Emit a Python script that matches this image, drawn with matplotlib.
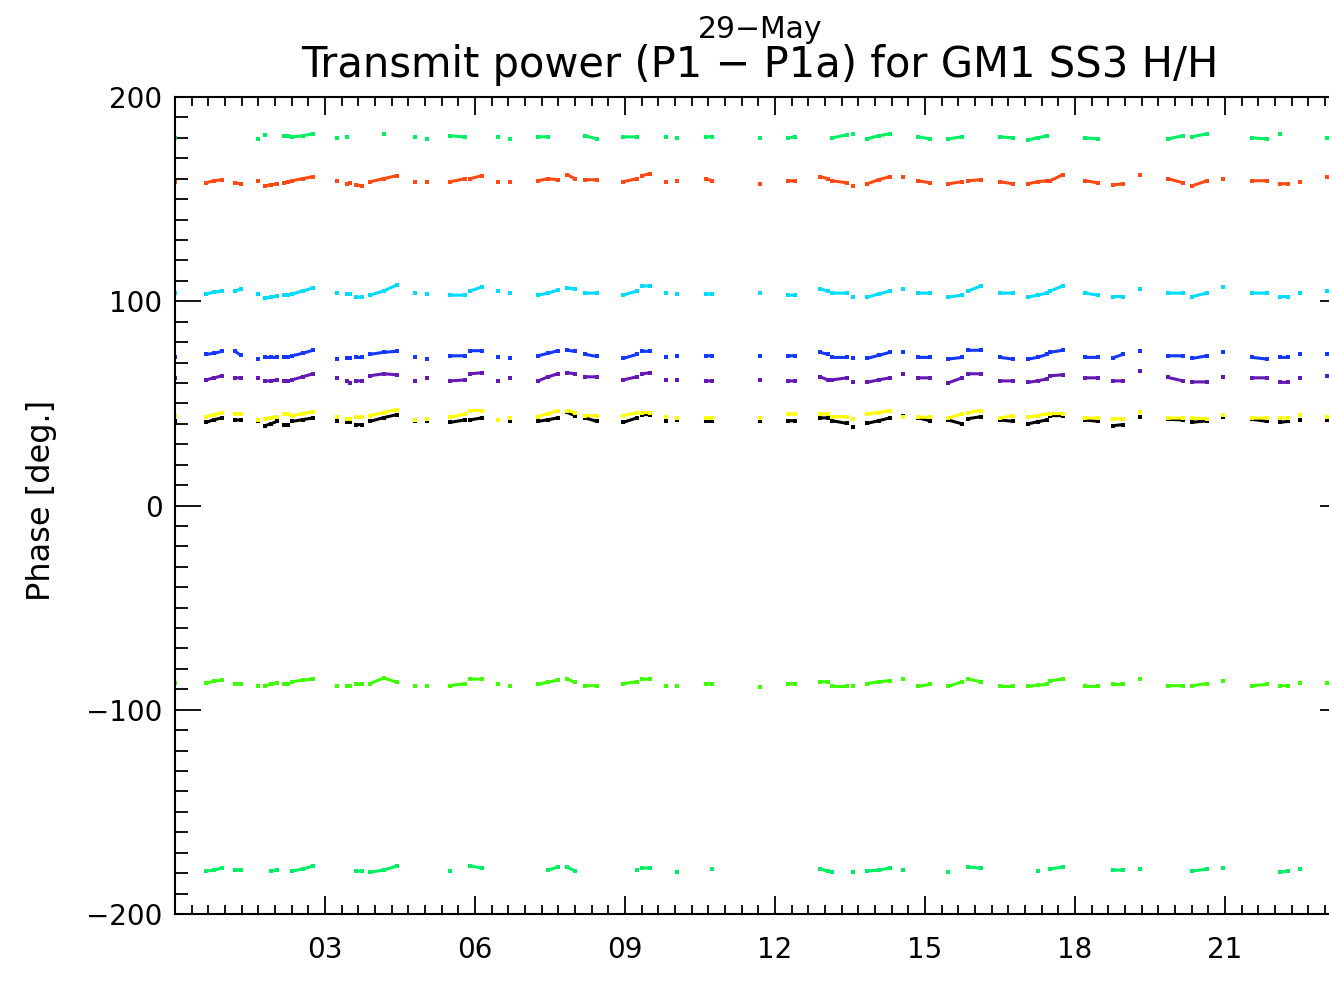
import numpy as np
import matplotlib.pyplot as plt
from matplotlib.ticker import MultipleLocator, FixedLocator

nan = np.nan

# sample times [hours UT], grouped by the passes seen in the plot
passes = [
    [0.0], [0.62, 0.78, 0.94], [1.2, 1.32], [1.66], [1.8, 1.92, 2.04], [2.18, 2.26],
    [2.34, 2.55, 2.76], [3.24], [3.44, 3.5], [3.62, 3.74], [3.9, 4.17, 4.44], [4.8],
    [5.04], [5.5, 5.8], [5.9, 6.14], [6.46], [6.7], [7.26, 7.46, 7.66],
    [7.84, 8.0], [8.2, 8.44], [8.96, 9.24], [9.34, 9.5], [9.82], [10.04],
    [10.62, 10.74], [11.7], [12.26, 12.4], [12.9, 13.06], [13.14, 13.44], [13.56],
    [13.84, 14.07, 14.3], [14.56], [14.86, 15.1], [15.46, 15.74], [15.86, 16.12], [16.5, 16.76],
    [17.06, 17.25, 17.44], [17.5, 17.76], [18.2, 18.46], [18.76, 18.96], [19.3], [19.86, 20.16],
    [20.34, 20.64], [20.96], [21.54, 21.84], [22.1, 22.26], [22.5], [23.04],
]

# phase [deg] per pass, one list per channel (None = no data in that pass)
green_top = [
    [180], None, None, [179.5], [181.5, nan, nan], [181, 181],
    [180.5, 181, 182], [180], [180.5, nan], None, [nan, 182, nan], [180.5],
    [179.5], [181, 180.5], None, [180.5], [179.5], [180.5, 180.5, nan],
    None, [181, 179.5], [180.5, 180.5], None, [180.5], [180],
    [180.5, 180.5], [180], [180, 180.5], None, [180, 181.5], [182],
    [179.5, 181, 182], None, [180.5, 179.5], [179.5, 180.5], None, [180.5, 180],
    [179, 180, 181], None, [180, 179.5], None, None, [179.5, 181],
    [180.5, 182], None, [180, 179.5], [182, nan], None, [180],
]
orange = [
    [158.5], [158, 159, 159.5], [158, 157.5], [159], [156.5, 157, 157.5], [158, 158.5],
    [159, 160, 161], [159], [157.5, 158], [157, 156.5], [158.5, 160, 161.5], [158.5],
    [158.5], [158.5, 160], [160, 161.5], [158.5], [158.5], [159, 160, 159.5],
    [162, 160], [159.5, 159.5], [158.5, 160], [161.5, 162.5], [158.5], [159],
    [160, 159], [157.5], [159, 159], [161, 160], [159, 158], [156.5],
    [157.5, 159.5, 161], [161], [159, 158], [157.5, 158.5], [159, 159.5], [158.5, 157.5],
    [157.5, 158.5, 159], [159, 162], [159, 158], [157, 157.5], [162], [160, 158],
    [156.5, 159], [160], [159, 159], [157.5, 157.5], [158.5], [161],
]
cyan = [
    [104], [103.5, 104.5, 105], [105, 106], [103.5], [101.5, 102, 102.5], [103, 103],
    [103.5, 105, 106.5], [104], [103.5, 103.5], [102, 102], [103, 105, 108], [104],
    [103.5], [103, 103], [105, 107], [105], [104], [103, 104, 105.5],
    [106.5, 106], [104, 104], [103, 105], [107.5, 107.5], [104], [103.5],
    [103.5, 103.5], [104], [103, 103], [106, 105], [104, 104], [102],
    [102, 103.5, 105], [106], [104, 104], [102, 103], [105, 107.5], [104, 104],
    [102, 103, 104], [105, 107.5], [104, 103], [102.3, 102.3], [106], [104, 104],
    [102.3, 104], [106.8], [104, 104], [102.3, 102.3], [104], [105],
]
blue = [
    [72.5], [74, 74.5, 75.5], [75.5, 73.5], [71.7], [72.5, 72.5, 72.5], [72.5, 72.5],
    [73.3, 74.5, 76], [71.7], [72, 72], [72.5, 72.5], [74, 75, 75.5], [72.5],
    [71.7], [73.3, 73.3], [75.8, 75.8], [72.5], [72], [73.3, 74.5, 75.8],
    [76, 75.5], [74, 73], [72, 74], [75.5, 75.5], [72.5], [73],
    [73.3, 73.3], [73.3], [73.3, 73.3], [75, 74], [72.5, 72.5], [72],
    [72, 73.5, 75], [75], [72.5, 72.5], [71.7, 72.5], [76, 76], [72.5, 71.7],
    [71.7, 72.5, 74], [75, 76], [72.5, 72.5], [72.3, 74], [75.5], [73.3, 73.3],
    [72, 73.3], [75], [72.5, 71.7], [72.5, 72.5], [74.3], [74],
]
purple = [
    [62.5], [61.5, 62.5, 63.5], [62.5, 62.5], [62.5], [61, 61, 61.5], [61, 61],
    [61.5, 63, 64.5], [62.5], [61, 60], [61, 61], [63.5, 64.5, 64], [61],
    [62.5], [61, 61.5], [64.5, 65], [61], [62.5], [61, 63, 64.5],
    [65, 64.5], [63, 63], [61.5, 63], [64.5, 65], [61.5], [61.5],
    [61, 61], [61.5], [61, 61], [63, 61.5], [61.5, 62.5], [60.3],
    [60.3, 61.5, 62.5], [64.5], [62.5, 62.5], [60, 62.5], [64.5, 64.5], [61, 61],
    [60.3, 61, 62], [63.5, 64], [62.5, 62.5], [61, 61], [66], [62.7, 61],
    [60.5, 60.5], [62.7], [62.5, 62.5], [60.3, 60.3], [62.5], [63.5],
]
yellow = [
    [44], [43.5, 44.5, 45.5], [45, 45], [42], [42.5, 43, 43.5], [45, 45],
    [44, 45, 46], [43.2], [42.5, 42.5], [43.2, 43.2], [44, 45.5, 47], [42],
    [42.5], [43.2, 44.8], [46.5, 46.5], [42], [43], [43.5, 45, 46.5],
    [46.5, 45.5], [44, 44], [44, 45.5], [45.5, 45.5], [43.2], [42.8],
    [42.8, 42.8], [42.8], [44.8, 44.8], [44.8, 44.8], [43.5, 43.5], [42.5],
    [44.8, 45.5, 46.5], [43.5], [43.2, 43.2], [42.8, 44.8], [45.5, 46.5], [42.8, 44],
    [43.2, 44, 44.8], [45, 45], [42.8, 42.8], [42.5, 42.5], [46], [42.8, 42.8],
    [42.8, 42.5], [44.5], [42.8, 42.8], [42.8, 42.8], [44.5], [43.2],
]
black = [
    [41.5], [40.7, 42, 42.9], [41.9, 41.9], [41.2], [39.1, 40, 41.2], [39.6, 39.6],
    [41.2, 42, 42.9], [41.5], [40.7, 40.7], [39.6, 39.6], [41.2, 43, 44.5], [41.2],
    [41.5], [40.7, 41.9], [41.9, 42.9], [41.9], [41.5], [41.2, 42, 42.9],
    [45.6, 44], [42.9, 41.2], [40.7, 42.9], [44.5, 44.5], [41.2], [41.9],
    [41.2, 41.2], [41.2], [41.5, 41.5], [42.9, 42.9], [41.5, 40.2], [38.3],
    [40.2, 41.5, 42.9], [44], [42.9, 41.5], [41.9, 40], [42.5, 43.5], [41.9, 41.2],
    [40, 41, 41.9], [44, 44], [41.9, 41.2], [39.1, 39.6], [43.5], [42.2, 41.9],
    [40.7, 41.5], [43.5], [42.2, 41.2], [40.7, 41.2], [41.9], [41.9],
]
lime = [
    [-87], [-87, -86, -85.5], [-87.2, -87.2], [-88.6], [-88.2, -87.5, -87], [-87.2, -87.2],
    [-86.3, -85.5, -85], [-88.2], [-88.6, -88.6], [-87.6, -87.6], [-87.2, -84.5, -86.5], [-88.6],
    [-88.6], [-88.2, -87.2], [-85, -85], [-87.6], [-88.2], [-87.6, -86.5, -85.5],
    [-85, -86.5], [-88.2, -88.2], [-87.2, -86.3], [-85, -85], [-88.2], [-88.2],
    [-87.2, -87.2], [-89], [-87.2, -87.2], [-86.3, -86.3], [-88.6, -88.6], [-88.6],
    [-87.2, -86.3, -85.8], [-85], [-88.6, -87.6], [-88.6, -86.3], [-85, -86.3], [-88.6, -88.6],
    [-88.6, -88, -87.6], [-85.8, -85], [-88.6, -88.6], [-87.6, -87.6], [-85], [-88.2, -88.2],
    [-88.2, -87.2], [-86], [-88.2, -87.6], [-88.2, -88.2], [-87], [-87],
]
green_bottom = [
    None, [-179, -178.5, -177.5], [-178.5, -178.5], None, [nan, -179, -178.5], None,
    [-179, -178, -176.5], None, None, [-179, -179], [-179.5, -178.5, -176.5], None,
    None, [-179, nan], [-176.5, -177.5], None, None, [nan, -178.5, -177],
    [-177, -179], None, [nan, -178.5], [-177.5, -177.5], None, [-179.5],
    [nan, -178], None, None, [-178, -179], [-179.5, nan], [-179.5],
    [-179, -178.5, -177.5], [-178.5], None, [-179.5, nan], [-177, -177.5], None,
    [nan, -179, nan], [-178, -177], None, [-178.5, -178.5], [-178], None,
    [-179, -178], [-177.5], None, [-179.5, -179], [-178], None,
]


def flatten(values):
    # join the passes into one array, NaN between passes breaks the line
    xs, ys = [], []
    for t, v in zip(passes, values):
        if v is None:
            continue
        xs += list(t) + [nan]
        ys += list(v) + [nan]
    return np.array(xs), np.array(ys)


series = [
    (green_top, '#00f064'),
    (orange, '#ff4a14'),
    (cyan, '#00dcff'),
    (blue, '#1438ff'),
    (purple, '#6418b4'),
    (black, '#000000'),
    (yellow, '#ffff00'),
    (lime, '#3cff00'),
    (green_bottom, '#00f064'),
]

fig = plt.figure(figsize=(13.29, 9.88), dpi=100)
ax = fig.add_axes([175/1329, 74/988, 1171/1329, 817/988])

for values, color in series:
    x, y = flatten(values)
    ax.plot(x, y, color=color, lw=2.2, marker='s', ms=2.6, mew=0, solid_capstyle='butt')

ax.set_xlim(0, 23.42)
ax.set_ylim(-200, 200)

ax.xaxis.set_major_locator(FixedLocator([3, 6, 9, 12, 15, 18, 21]))
ax.xaxis.set_minor_locator(MultipleLocator(1/3))
ax.set_xticklabels(['%02d' % h for h in [3, 6, 9, 12, 15, 18, 21]])
ax.yaxis.set_major_locator(MultipleLocator(100))
ax.yaxis.set_minor_locator(MultipleLocator(10))

ax.tick_params(axis='x', which='major', direction='in', length=13, width=1.3,
               top=True, bottom=True, labelsize=20, pad=16)
ax.tick_params(axis='x', which='minor', direction='in', length=6.5, width=1.3,
               top=True, bottom=True)
ax.tick_params(axis='y', which='major', direction='in', length=18.7, width=1.3,
               left=True, right=True, labelsize=20, pad=9)
ax.tick_params(axis='y', which='minor', direction='in', length=9.4, width=1.3,
               left=True, right=True)
for s in ax.spines.values():
    s.set_linewidth(1.5)

fig.text(760/1329, 1 - 65/988, 'Transmit power (P1 \u2212 P1a) for GM1 SS3 H/H',
         ha='center', va='center', fontsize=30)
fig.text(760/1329, 1 - 30/988, '29\u2212May', ha='center', va='center', fontsize=21.5)
fig.text(42/1329, 1 - 500/988, 'Phase [deg.]', rotation=90,
         ha='center', va='center', fontsize=23)

fig.savefig('out.png', dpi=100)
